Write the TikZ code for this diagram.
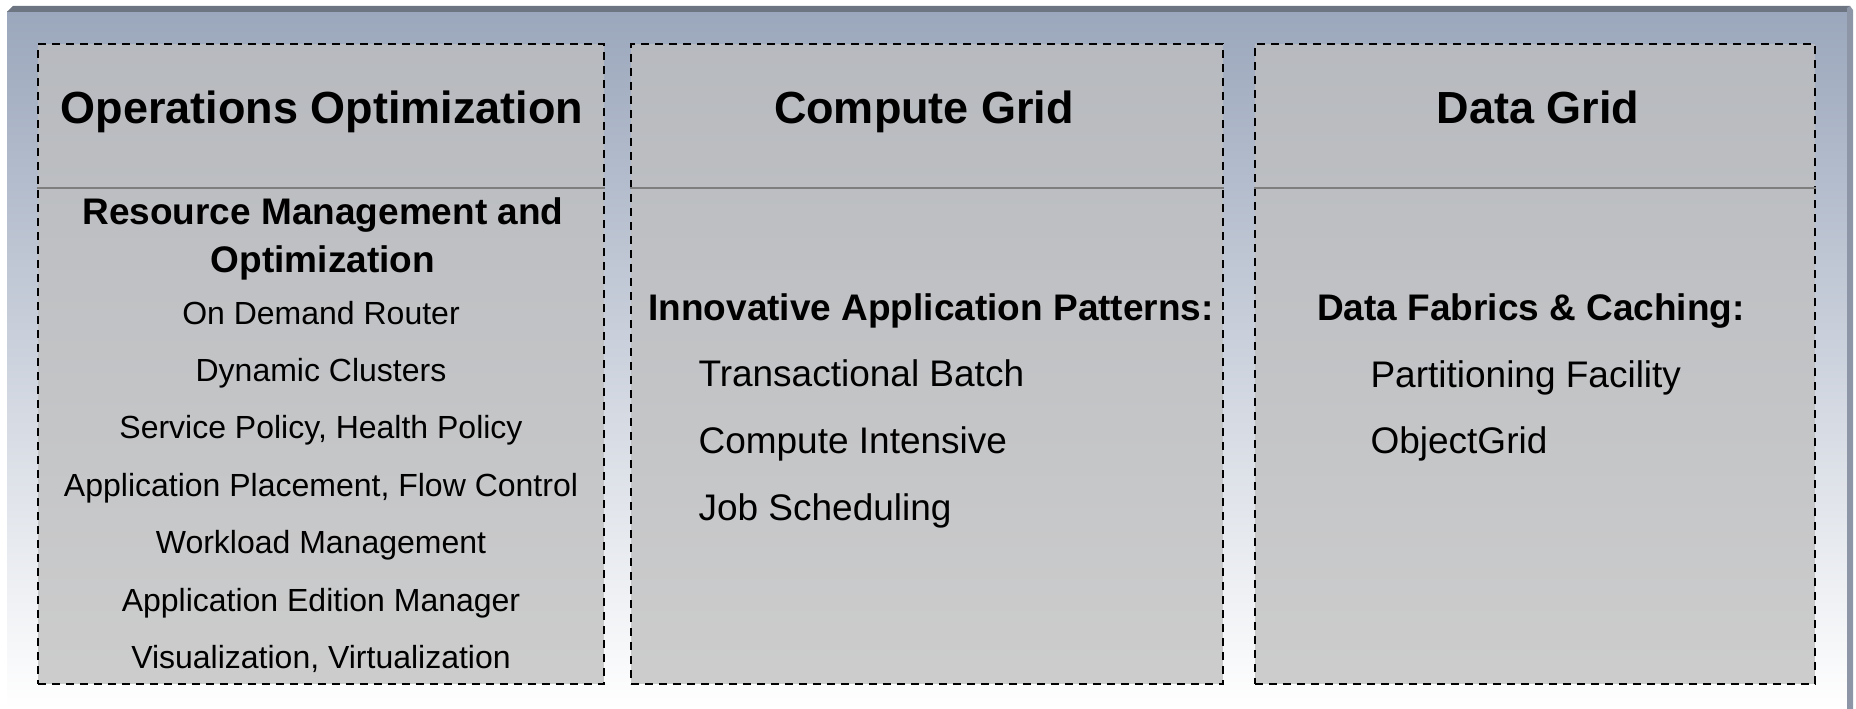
\documentclass[tikz,border=0pt]{standalone}
\usepackage{fontspec}
\setmainfont{Liberation Sans}
\usetikzlibrary{positioning}
\definecolor{bgtop}{HTML}{9BA7BC}
\definecolor{bartop}{HTML}{6E7582}
\definecolor{barside}{HTML}{8C96A6}
\definecolor{panelfill}{HTML}{BFBFBF}
\definecolor{divider}{HTML}{7E7E7E}
\tikzset{
  panel/.style={draw=black, line width=2.6pt, dash pattern=on 8pt off 6pt,
    fill=panelfill, fill opacity=0.77, draw opacity=1, rectangle, inner sep=0pt},
  heading/.style={anchor=base, font=\fontsize{45}{54}\selectfont\bfseries},
  subhead/.style={anchor=base, font=\fontsize{37}{48}\selectfont\bfseries},
  item/.style={anchor=base west, font=\fontsize{37}{44}\selectfont},
  smallitem/.style={anchor=base, font=\fontsize{32}{38}\selectfont}
}
\begin{document}
\begin{tikzpicture}[x=1pt, y=-1pt]
  \useasboundingbox (0,0) rectangle (1856,709);
  \shade[top color=bgtop, bottom color=white] (7,12) rectangle (1850,709);
  \fill[bartop] (7,12) -- (13,6) -- (1850,6) -- (1850,12) -- cycle;
  \fill[barside] (1847,8) -- (1850,6) -- (1853,10) -- (1853,709) -- (1847,709) -- cycle;

  \node[panel, minimum width=566pt, minimum height=640pt] (ops) at (321,364) {};
  \node[panel, minimum width=592pt, minimum height=640pt] (compute) at (927,364) {};
  \node[panel, minimum width=560pt, minimum height=640pt] (data) at (1535,364) {};

  \foreach \p in {ops, compute, data}
  {
    \draw[divider, line width=2.4pt] (\p.west |- 0,188) -- (\p.east |- 0,188);
  }

  \node[heading] (opsTitle) at (322,123) {Operations Optimization};
  \node[heading] (computeTitle) at (924,124) {Compute Grid};
  \node[heading] (dataTitle) at (1538,124) {Data Grid};

  \node[subhead] (rmo1) at (323,224) {Resource Management and};
  \node[subhead] (rmo2) at (323,272) {Optimization};
  \foreach \t [count=\k] in {On Demand Router, Dynamic Clusters,
      {Service Policy, Health Policy}, {Application Placement, Flow Control},
      Workload Management, Application Edition Manager,
      {Visualization, Virtualization}}
  {
    \node[smallitem] (rm\k) at (321, 324+57.4*\k-57.4) {\t};
  }

  \node[subhead] (patterns) at (931,320) {Innovative Application Patterns:};
  \foreach \t [count=\k] in {Transactional Batch, Compute Intensive, Job Scheduling}
  {
    \node[item] (cg\k) at (695, 386+67*\k-67) {\t};
  }

  \node[subhead] (fabrics) at (1531,320) {Data Fabrics \& Caching:};
  \foreach \t [count=\k] in {Partitioning Facility, ObjectGrid}
  {
    \node[item] (dg\k) at (1367, 387+66*\k-66) {\t};
  }
\end{tikzpicture}
\end{document}
